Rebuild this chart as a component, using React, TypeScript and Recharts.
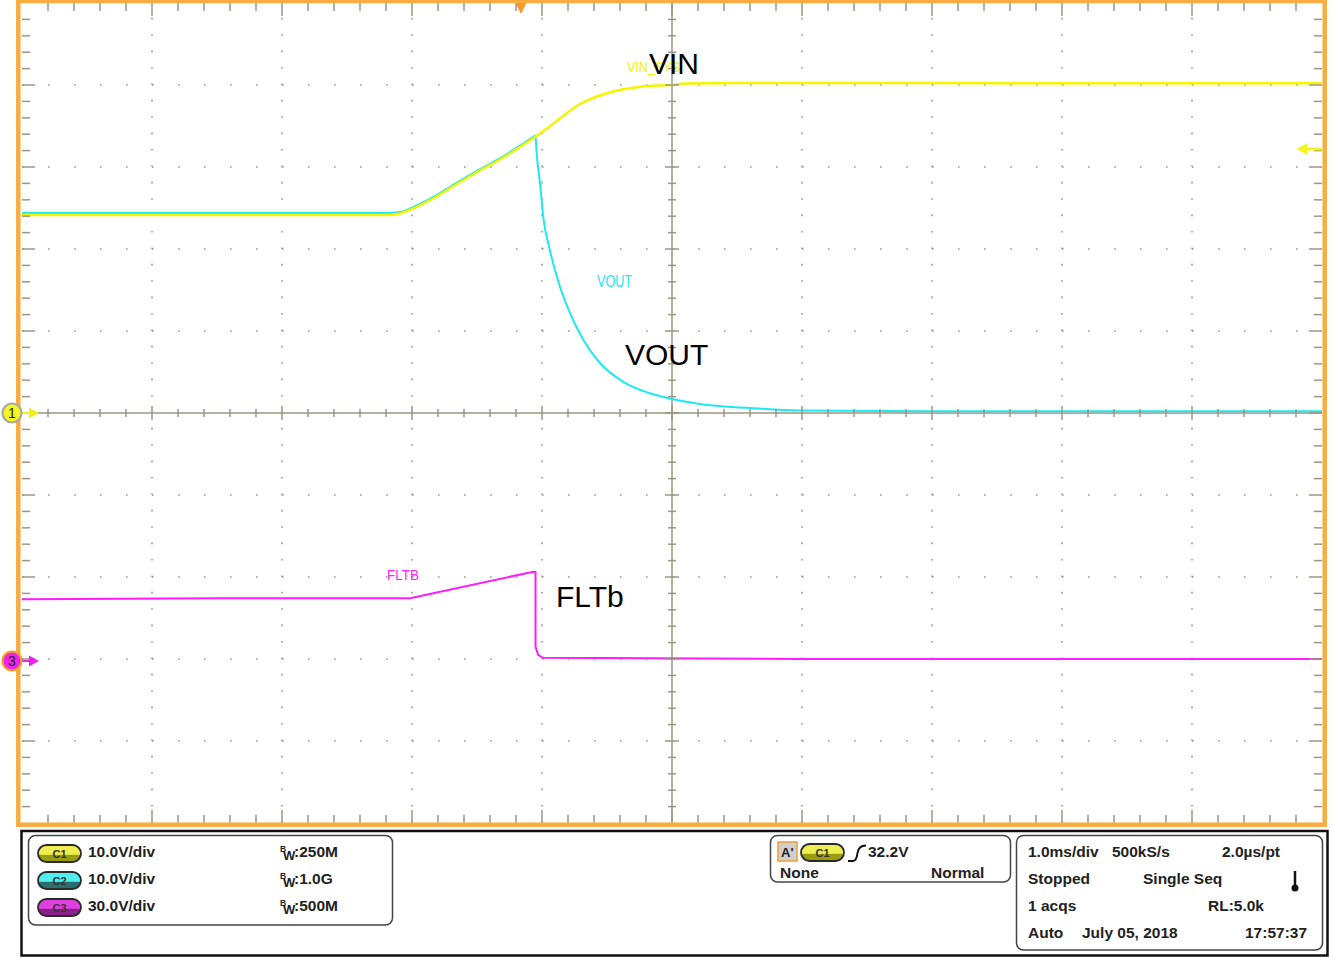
import React from 'react';
import { ComposedChart, Line, XAxis, YAxis, ReferenceLine, Scatter } from 'recharts';

// Horizontal: time in divisions (1.0 ms/div), 0..10. Vertical: screen divisions, 0 (bottom) .. 10 (top)
const vinX = [0, 2.831, 2.908, 3.008, 3.162, 3.346, 3.523, 3.677, 3.777, 3.946, 4.038, 4.162, 4.292, 4.423, 4.546, 4.677, 4.808, 4.985, 5.115, 5.5, 7.0, 8.5, 10];
const vinY = [7.415, 7.415, 7.433, 7.494, 7.616, 7.793, 7.957, 8.091, 8.189, 8.366, 8.47, 8.622, 8.768, 8.86, 8.921, 8.96, 8.988, 9.0, 9.018, 9.025, 9.025, 9.02, 9.02];

// VOUT: rising part (tracks VIN) and falling part (after the switch turns off)
const voutRiseX = [0, 2.831, 2.908, 3.008, 3.162, 3.346, 3.523, 3.677, 3.777, 3.95];
const voutRiseY = [7.44, 7.44, 7.45, 7.51, 7.632, 7.809, 7.973, 8.107, 8.205, 8.385];
const voutFallX = [3.95, 3.959, 3.985, 4.01, 4.06, 4.138, 4.215, 4.318, 4.446, 4.625, 4.83, 5.0, 5.215, 5.6, 5.985, 7.0, 10];
const voutFallY = [8.385, 8.17, 7.8, 7.39, 6.99, 6.54, 6.22, 5.89, 5.61, 5.38, 5.24, 5.17, 5.11, 5.06, 5.03, 5.02, 5.02];

const fltbX = [0, 1.5, 2.985, 3.933, 3.95, 3.95, 3.97, 4.008, 6.0, 10];
const fltbY = [2.73, 2.74, 2.74, 3.065, 3.06, 2.15, 2.05, 2.015, 2.0, 2.0];

const majorDivs = [1, 2, 3, 4, 6, 7, 8, 9];
const centerDiv = 5;

const chScales = ['10.0V/div', '10.0V/div', '30.0V/div'];
const chNames = ['C1', 'C2', 'C3'];
const bwValues = [':250M', ':1.0G', ':500M'];

const toPoints = (xs: number[], ys: number[]) => xs.map((x, i) => ({ x, y: ys[i] }));
const vinData = toPoints(vinX, vinY);
const voutRiseData = toPoints(voutRiseX, voutRiseY);
const voutFallData = toPoints(voutFallX, voutFallY);
const fltbData = toPoints(fltbX, fltbY);

// graticule tick marks (every 0.2 div)
const steps = Array.from({ length: 51 }, (_, i) => i);
const tickData: any[] = [];
steps.forEach((i) => {
  const t = i / 5;
  const major = i % 5 === 0;
  if (i > 0 && i < 50) {
    tickData.push({ x: t, y: 10, kind: 'top', major });
    tickData.push({ x: t, y: 0, kind: 'bottom', major });
    tickData.push({ x: 0, y: t, kind: 'left', major });
    tickData.push({ x: 10, y: t, kind: 'right', major });
    tickData.push({ x: t, y: centerDiv, kind: 'hc', major });
    tickData.push({ x: centerDiv, y: t, kind: 'vc', major });
  }
});

const GRID = '#9c967f';

const TickShape = (props: any) => {
  const { cx, cy, payload } = props;
  if (cx == null || cy == null) return <g />;
  const long = payload.major ? 13 : 8;
  const half = payload.major ? 7 : 4;
  let x1 = cx, y1 = cy, x2 = cx, y2 = cy;
  switch (payload.kind) {
    case 'top': y2 = cy + long; break;
    case 'bottom': y2 = cy - long; break;
    case 'left': x2 = cx + long; break;
    case 'right': x2 = cx - long; break;
    case 'hc': y1 = cy - half; y2 = cy + half; break;
    case 'vc': x1 = cx - half; x2 = cx + half; break;
  }
  return <line x1={x1} y1={y1} x2={x2} y2={y2} stroke={GRID} strokeWidth={1.5} />;
};

const FONT = 'Liberation Sans, Arial, sans-serif';
const NARROW = 'Liberation Sans Narrow, Arial Narrow, Liberation Sans, Arial, sans-serif';

const pillColors = [
  { top: '#eeee50', bottom: '#9c9c10' },
  { top: '#50eeee', bottom: '#2a6e6e' },
  { top: '#e040e0', bottom: '#8a208a' },
];

const Pill = ({ x, y, label, idx }: { x: number; y: number; label: string; idx: number }) => {
  const c = pillColors[idx];
  const gid = 'pg' + label + x;
  return (
    <g>
      <defs>
        <linearGradient id={gid} x1="0" y1="0" x2="0" y2="1">
          <stop offset="0" stopColor={c.top} />
          <stop offset="0.55" stopColor={c.top} />
          <stop offset="0.6" stopColor={c.bottom} />
          <stop offset="1" stopColor={c.bottom} />
        </linearGradient>
      </defs>
      <rect x={x} y={y} width={43} height={17} rx={8.5} fill={`url(#${gid})`} stroke="#2a2a2a" strokeWidth={1.8} />
      <text x={x + 21.5} y={y + 12.5} textAnchor="middle" fontFamily={FONT} fontSize={11} fontWeight="bold" fill="#333">{label}</text>
    </g>
  );
};

const T = ({ x, y, children }: { x: number; y: number; children: React.ReactNode }) => (
  <text x={x} y={y} fontFamily={FONT} fontSize={15.5} fontWeight="bold" fill="#222">{children}</text>
);

const Overlay = () => (
  <svg width={1333} height={958} style={{ position: 'absolute', left: 0, top: 0, pointerEvents: 'none' }}>
    {/* orange graticule frame */}
    <rect x={18.3} y={1} width={1306.4} height={823.7} fill="none" stroke="#f8ad42" strokeWidth={4.5} />
    {/* trigger position marker */}
    <path d="M515.5 3 L526.5 3 L521 14 Z" fill="#f39a2a" />
    {/* trigger level arrow */}
    <line x1={1304} y1={149} x2={1322} y2={149} stroke="#f5f520" strokeWidth={3} />
    <path d="M1296.5 149 L1307.5 143 L1307.5 155 Z" fill="#f5f520" />
    {/* channel 1 marker */}
    <line x1={21} y1={413} x2={32} y2={413} stroke="#f0f020" strokeWidth={2} />
    <path d="M29 407.5 L39 413 L29 418.5 Z" fill="#f0f020" />
    <circle cx={12} cy={413} r={9.5} fill="#f5f520" stroke="#a8a8a8" strokeWidth={2.2} />
    <text x={12} y={418} textAnchor="middle" fontFamily={FONT} fontSize={14} fill="#222">1</text>
    {/* channel 3 marker */}
    <line x1={21} y1={661} x2={32} y2={661} stroke="#ee22ee" strokeWidth={2} />
    <path d="M29 655.5 L39 661 L29 666.5 Z" fill="#ee22ee" />
    <circle cx={12} cy={661} r={9.5} fill="#ee22ee" stroke="#f5a020" strokeWidth={2.2} />
    <text x={12} y={666} textAnchor="middle" fontFamily={FONT} fontSize={14} fill="#222">3</text>

    {/* waveform labels */}
    <text x={627} y={72} fontFamily={NARROW} fontSize={15} fill="#f0f000" textLength={53} lengthAdjust="spacingAndGlyphs">VIN_SYS</text>
    <text x={649} y={74} fontFamily={FONT} fontSize={30} fill="#000">VIN</text>
    <text x={597} y={287} fontFamily={NARROW} fontSize={16} fill="#20e8f0" textLength={35} lengthAdjust="spacingAndGlyphs">VOUT</text>
    <text x={625} y={365} fontFamily={FONT} fontSize={30} fill="#000">VOUT</text>
    <text x={387} y={580} fontFamily={NARROW} fontSize={14} fill="#ff20ff" textLength={32} lengthAdjust="spacingAndGlyphs">FLTB</text>
    <text x={556} y={607} fontFamily={FONT} fontSize={30} fill="#000">FLTb</text>

    {/* bottom status panel */}
    <rect x={21.5} y={831} width={1306} height={124.5} fill="#fff" stroke="#111" strokeWidth={2.5} />
    <rect x={28.5} y={835.5} width={364} height={89.5} rx={7} fill="#fff" stroke="#444" strokeWidth={1.5} />
    <rect x={770.5} y={835.5} width={240} height={46.5} rx={7} fill="#fff" stroke="#444" strokeWidth={1.5} />
    <rect x={1016.5} y={835.5} width={306} height={114.5} rx={7} fill="#fff" stroke="#444" strokeWidth={1.5} />

    {chNames.map((n, i) => (
      <g key={n}>
        <Pill x={38} y={845 + i * 27} label={n} idx={i} />
        <T x={88} y={857 + i * 27}>{chScales[i]}</T>
        <text x={280} y={852 + i * 27} fontFamily={FONT} fontSize={8.5} fontWeight="bold" fill="#222">B</text>
        <text x={283} y={860 + i * 27} fontFamily={FONT} fontSize={13} fontWeight="bold" fill="#222">W</text>
        <T x={294} y={857 + i * 27}>{bwValues[i]}</T>
      </g>
    ))}

    {/* trigger box */}
    <rect x={778} y={842} width={19} height={19} fill="#cfcfcf" stroke="#f0a030" strokeWidth={1.5} />
    <text x={781} y={857} fontFamily={FONT} fontSize={13} fontWeight="bold" fill="#222">A'</text>
    <Pill x={801} y={844} label="C1" idx={0} />
    <path d="M848 861 L853 861 Q856.5 861 857.5 853 Q858.5 845.5 866 845.5" fill="none" stroke="#111" strokeWidth={2} />
    <T x={868} y={857}>32.2V</T>
    <T x={780} y={878}>None</T>
    <T x={931} y={878}>Normal</T>

    {/* acquisition box */}
    <T x={1028} y={857}>1.0ms/div</T>
    <T x={1112} y={857}>500kS/s</T>
    <T x={1222} y={857}>2.0µs/pt</T>
    <T x={1028} y={884}>Stopped</T>
    <T x={1143} y={884}>Single Seq</T>
    <line x1={1295} y1={871} x2={1295} y2={886} stroke="#111" strokeWidth={2.5} />
    <circle cx={1295} cy={888} r={3.5} fill="#111" />
    <T x={1028} y={911}>1 acqs</T>
    <T x={1208} y={911}>RL:5.0k</T>
    <T x={1028} y={938}>Auto</T>
    <T x={1082} y={938}>July 05, 2018</T>
    <T x={1245} y={938}>17:57:37</T>
  </svg>
);

export default function App() {
  return (
    <div style={{ position: 'absolute', left: 0, top: 0, width: 1333, height: 958, background: '#fff' }}>
      <ComposedChart width={1333} height={958} margin={{ top: 3, left: 22, right: 11, bottom: 135 }}>
        <XAxis type="number" dataKey="x" domain={[0, 10]} allowDataOverflow hide />
        <YAxis type="number" dataKey="y" domain={[0, 10]} allowDataOverflow hide />
        {majorDivs.map((d) => (
          <ReferenceLine key={'h' + d} y={d} stroke={GRID} strokeWidth={1.6} strokeDasharray="1.6 24.4" />
        ))}
        {majorDivs.map((d) => (
          <ReferenceLine key={'v' + d} x={d} stroke={GRID} strokeWidth={1.6} strokeDasharray="1.6 14.8" />
        ))}
        <ReferenceLine y={centerDiv} stroke={GRID} strokeWidth={1.5} />
        <ReferenceLine x={centerDiv} stroke={GRID} strokeWidth={1.5} />
        <Scatter data={tickData} shape={<TickShape />} isAnimationActive={false} />
        <Line data={voutRiseData} dataKey="y" type="monotone" stroke="#1ee8f2" strokeWidth={2} dot={false} activeDot={false} isAnimationActive={false} />
        <Line data={voutFallData} dataKey="y" type="monotone" stroke="#1ee8f2" strokeWidth={2} dot={false} activeDot={false} isAnimationActive={false} />
        <Line data={vinData} dataKey="y" type="monotone" stroke="#f5f500" strokeWidth={2.5} dot={false} activeDot={false} isAnimationActive={false} />
        <Line data={fltbData} dataKey="y" type="linear" stroke="#ff1cff" strokeWidth={2} dot={false} activeDot={false} isAnimationActive={false} />
      </ComposedChart>
      <Overlay />
    </div>
  );
}
